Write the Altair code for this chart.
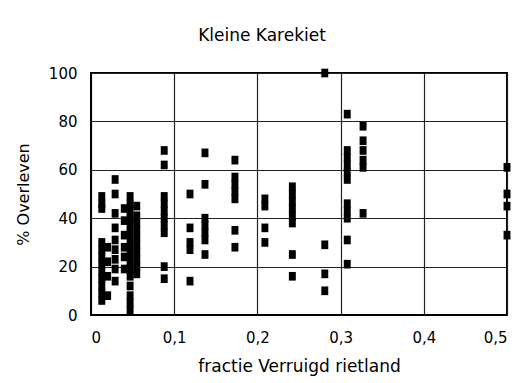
import altair as alt
import pandas as pd

# x groups (fractie Verruigd rietland) and their y values (% Overleven)
group_x = [0.013, 0.02, 0.029, 0.04, 0.047, 0.055, 0.088, 0.119, 0.137, 0.173,
           0.209, 0.242, 0.281, 0.308, 0.327, 0.5]
group_y = [
    [49, 46, 44, 30, 27, 24, 21, 18, 15, 12, 9, 6],
    [28, 22, 16, 8],
    [56, 50, 42, 36, 31, 27, 23, 19, 14],
    [44, 39, 33, 28, 24, 19],
    [49, 46, 43, 40, 37, 34, 31, 28, 25, 22, 19, 16, 12, 8, 5, 2],
    [45, 41, 38, 35, 32, 29, 26, 23, 20, 17],
    [68, 62, 49, 46, 43, 40, 37, 34, 20, 15],
    [50, 36, 30, 27, 14],
    [67, 54, 40, 37, 34, 31, 25],
    [64, 57, 54, 51, 48, 35, 28],
    [48, 45, 36, 30],
    [53, 50, 47, 44, 41, 38, 25, 16],
    [100, 29, 17, 10],
    [83, 68, 65, 62, 59, 56, 46, 43, 40, 31, 21],
    [78, 72, 68, 64, 61, 42],
    [61, 50, 45, 33],
]

xs, ys = [], []
for gx, gys in zip(group_x, group_y):
    for gy in gys:
        xs.append(gx)
        ys.append(gy)
df = pd.DataFrame({"x": xs, "y": ys})

font = "DejaVu Sans"

chart = alt.Chart(df).mark_point(
    shape="M-0.8,-1L0.8,-1L0.8,1L-0.8,1Z", filled=True, color="black",
    opacity=1, size=75
).encode(
    x=alt.X("x:Q", scale=alt.Scale(domain=[0, 0.5], nice=False),
            axis=alt.Axis(values=[0, 0.1, 0.2, 0.3, 0.4, 0.5],
                          labelExpr="datum.value == 0 ? '0' : replace(format(datum.value, '.1f'), '.', ',')",
                          title="fractie Verruigd rietland", ticks=False,
                          labelFontSize=15, titleFontSize=17,
                          labelPadding=15, titlePadding=13)),
    y=alt.Y("y:Q", scale=alt.Scale(domain=[0, 100], nice=False),
            axis=alt.Axis(values=[0, 20, 40, 60, 80, 100], title="% Overleven",
                          labelFontSize=15, titleFontSize=16,
                          ticks=False, labelPadding=14, titlePadding=17)),
).properties(
    width=416, height=242,
    title=alt.TitleParams("Kleine Karekiet", offset=21, dx=-37, font=font,
                          fontSize=17, fontWeight="normal", color="black"),
    autosize=alt.AutoSizeParams(type="none"),
    padding={"left": 91, "top": 73, "right": 17, "bottom": 68},
).configure_axis(
    labelFont=font, titleFont=font,
    titleFontWeight="normal", labelColor="black", titleColor="black",
    grid=True, gridColor="#222222", gridWidth=1.2, domainColor="black",
).configure_view(stroke="black", strokeWidth=2)

chart.save("out.html", embed_options={"renderer": "svg", "actions": False})
